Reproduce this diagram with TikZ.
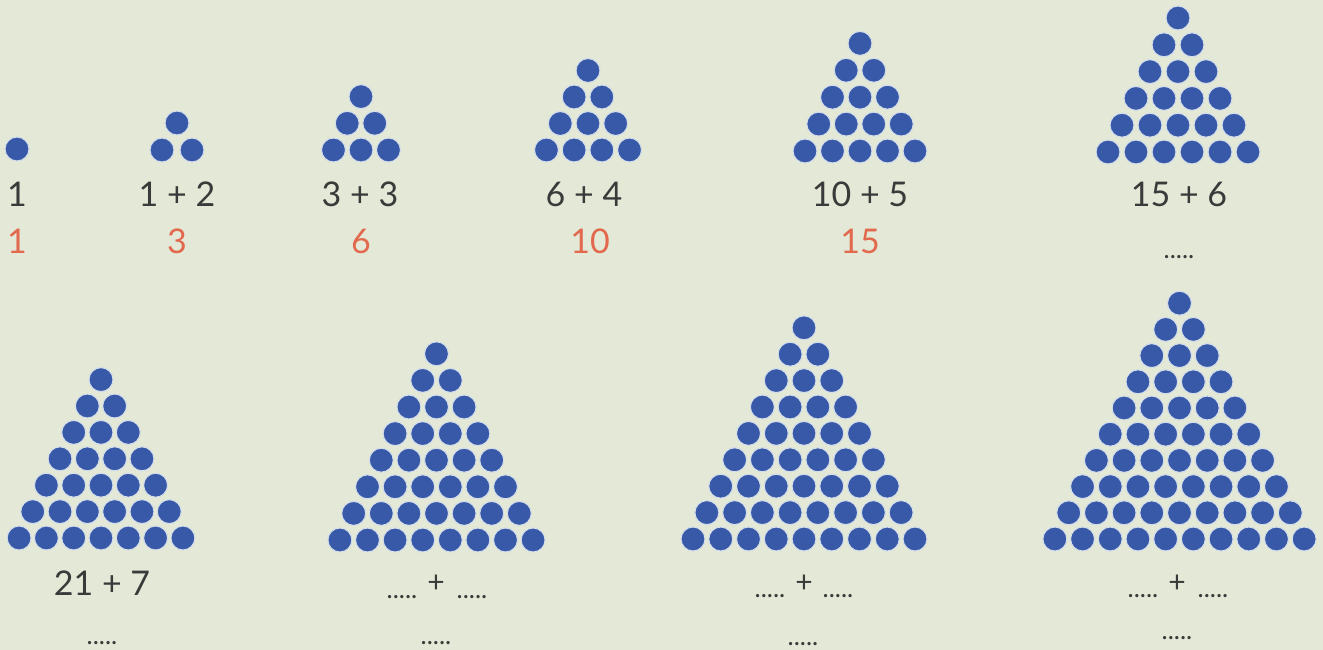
\documentclass[tikz,border=0pt]{standalone}
\usepackage{fontspec}
\setmainfont{Lato}
\definecolor{bg}{RGB}{227,233,214}
\definecolor{dotblue}{RGB}{56,88,168}
\definecolor{halo}{RGB}{212,222,234}
\definecolor{ink}{RGB}{58,58,58}
\definecolor{rednum}{RGB}{226,104,78}
\begin{document}
\begin{tikzpicture}[x=1pt,y=-1pt,
  dot/.style={circle,inner sep=0pt,minimum size=24pt,fill=dotblue,draw=halo,line width=1.1pt},
  sumlbl/.style={anchor=base,inner sep=0pt,text=ink,font=\fontsize{34}{34}\selectfont},
  reslbl/.style={anchor=base,inner sep=0pt,text=rednum,font=\fontsize{34}{34}\selectfont},
  pluslbl/.style={anchor=base,inner sep=0pt,text=ink,font=\fontsize{30}{30}\selectfont},
  blank/.style={anchor=base,inner sep=0pt,text=ink,font=\fontsize{26}{26}\selectfont}]
\path[fill=bg] (0,0) rectangle (1323,650);
\useasboundingbox (0,0) rectangle (1323,650);
% triangles: n / centre x / bottom y / row step / column step
\foreach \n/\cx/\by/\dy/\dx in {1/17/149/26.7/27.6, 2/177/150/27/30, 3/361/150/26.7/27.5, 4/588/150/26.5/27.7, 5/860/151/26.9/27.5, 6/1178/152/26.8/28,
  7/101/538/26.4/27.3, 8/436.5/540/26.6/27.6, 9/804/539/26.4/27.75, 10/1179.5/539/26.2/27.7}{
  \foreach \r in {1,...,\n}{
    \foreach \c in {1,...,\r}{
      \node[dot] (d\n-\r-\c) at ({\cx+(\c-(\r+1)/2)*\dx},{\by-(\n-\r)*\dy}) {};
    }
  }
}
% top row labels
\node[sumlbl] (s1) at (17,206) {1};
\node[sumlbl] (s2) at (177,206) {1 + 2};
\node[sumlbl] (s3) at (360,206) {3 + 3};
\node[sumlbl] (s4) at (584,206) {6 + 4};
\node[sumlbl] (s5) at (860,206) {10 + 5};
\node[sumlbl] (s6) at (1179,207) {15 + 6};
\node[reslbl] (r1) at (17,253) {1};
\node[reslbl] (r2) at (177,253) {3};
\node[reslbl] (r3) at (361,253) {6};
\node[reslbl] (r4) at (590,253) {10};
\node[reslbl] (r5) at (860,253) {15};
\node[blank] (b6) at (1179,258) {.....};
% bottom row labels
\node[sumlbl] (s7) at (102,595) {21 + 7};
\node[blank] (b7) at (102,644) {.....};
\node[pluslbl] (p8) at (436,592) {+};
\node[blank] (l8) at (402,598) {.....};
\node[blank] (m8) at (472,598) {.....};
\node[blank] (b8) at (436,644) {.....};
\node[pluslbl] (p9) at (804,592) {+};
\node[blank] (l9) at (770,597) {.....};
\node[blank] (m9) at (838,597) {.....};
\node[blank] (b9) at (803,645) {.....};
\node[pluslbl] (p10) at (1177,592) {+};
\node[blank] (l10) at (1143,597) {.....};
\node[blank] (m10) at (1213,597) {.....};
\node[blank] (b10) at (1177,639) {.....};
\end{tikzpicture}
\end{document}
